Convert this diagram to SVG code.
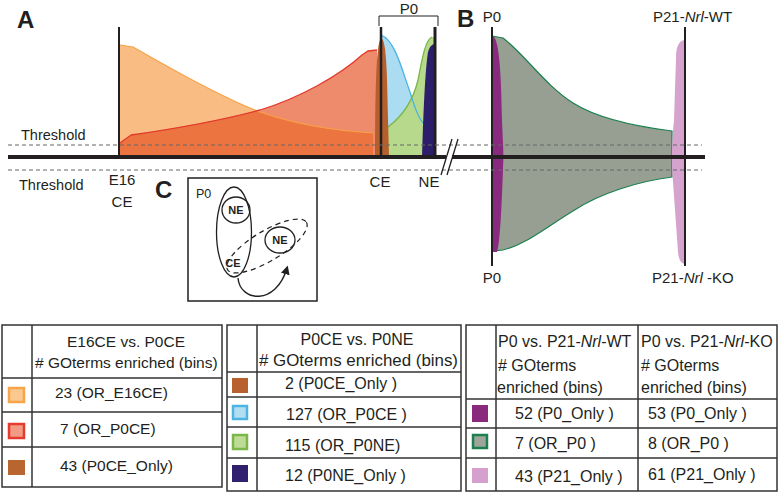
<svg xmlns="http://www.w3.org/2000/svg" width="778" height="493" viewBox="0 0 778 493">
<defs>
<style>
text{font-family:"Liberation Sans",Arial,sans-serif;fill:#231f20}
.lbl{font-size:15px}
.big{font-size:24px;font-weight:bold}
.thr{font-size:14.5px}
.tb{fill:none;stroke:#333;stroke-width:1.5}
.t1{font-size:15.5px}
.t2{font-size:16px}
.c{text-anchor:middle}
.dash{stroke:#666;stroke-width:1;stroke-dasharray:4 3;fill:none}
.vl{stroke:#231f20;fill:none}
.cb{font-size:11px;font-weight:bold}
</style>
<marker id="ah" viewBox="0 0 10 10" refX="7" refY="5" markerWidth="9" markerHeight="9" markerUnits="userSpaceOnUse" orient="auto">
<path d="M0,0 L10,5 L0,10 z" fill="#231f20"/>
</marker>
</defs>
<rect width="778" height="493" fill="#fff"/>

<!-- Panel A -->
<g id="panelA">
<text class="big" x="17" y="28">A</text>
<path id="orange" d="M120,157 V45 L133,47 C160,62 215,95 260,112 C300,126 340,131 373,133 V157 Z" fill="#f9bd83"/>
<path id="red" d="M120,157 V143 L131,135 C180,128 230,118 260,110 C300,98 340,75 362,55 L368,51 L377,50 V157 Z" fill="#e54d1d" fill-opacity="0.65"/>
<path d="M120,45 L133,47 C160,62 215,95 260,112 C300,126 340,131 373,133" fill="none" stroke="#f5a247" stroke-width="1.2"/>
<path d="M120,143 L131,135 C180,128 230,118 260,110 C300,98 340,75 362,55 L368,51 L377,50" fill="none" stroke="#e3392b" stroke-width="1.3"/>
<path id="blue" d="M381,157 V35 C395,40 402,70 410,92 C414,105 418,118 424,124 V157 Z" fill="#acdcf2"/>
<path id="green" d="M388,157 V127 C400,118 412,105 418,80 C422,60 425,40 432,37 L435,37 V157 Z" fill="#b6d98c"/>
<path d="M381,35 C395,40 402,70 410,92 C414,105 418,118 424,124" fill="none" stroke="#4ab3e3" stroke-width="1.3"/>
<path d="M388,127 C400,118 412,105 418,80 C422,60 425,40 432,37" fill="none" stroke="#7ab648" stroke-width="1.3"/>
<path id="brown" d="M375,157 C375,100 376,48 380,40 C383,35 386,44 387,80 L389,157 Z" fill="#b5602c"/>
<path id="navy" d="M422,157 C423,120 425,70 428,52 C430,45 433,44 435,44 V157 Z" fill="#2d1e6b"/>
<line class="vl" x1="119" y1="27" x2="119" y2="157" stroke-width="2"/>
<line class="vl" x1="381" y1="27" x2="381" y2="157" stroke-width="2.5"/>
<line class="vl" x1="435" y1="27" x2="435" y2="157" stroke-width="3"/>
<path class="vl" d="M379,26 V16 H438 V26" stroke-width="1"/>
<text class="lbl c" x="409" y="14">P0</text>
<text class="thr" x="21" y="140">Threshold</text>
<text class="thr" x="19" y="190">Threshold</text>
<text class="lbl c" x="122" y="185">E16</text>
<text class="lbl c" x="122" y="207">CE</text>
<text class="lbl c" x="380" y="187">CE</text>
<text class="lbl c" x="429" y="187">NE</text>
</g>

<!-- Panel B -->
<g id="panelB">
<text class="big" x="457" y="27">B</text>
<path id="gray" d="M492,36 L503,38 C525,55 545,85 573,103 C600,120 640,127 672,131 L672,177 C640,181 600,193 573,211 C545,228 525,245 503,250 L492,251 Z" fill="#969f92" stroke="#1b7f4f" stroke-width="1.2"/>
<path id="purple" d="M492,36 C498,36 501,60 502,120 C503,145 504,157 503,168 C502,200 500,245 497,252 L492,252 Z" fill="#8a2a7e"/>
<path id="pink" d="M685,40 C680,40 676,45 676,58 L674,120 C672,140 671,162 673,182 L678,252 C679,262 682,264 686,264 Z" fill="#d6a3cf"/>
<line class="vl" x1="492" y1="27" x2="492" y2="266" stroke-width="2"/>
<line class="vl" x1="685" y1="27" x2="685" y2="266" stroke-width="2"/>
<text class="lbl c" x="492" y="22">P0</text>
<text class="lbl c" x="492" y="283">P0</text>
<text class="lbl" x="653" y="22">P21-<tspan font-style="italic">Nrl</tspan>-WT</text>
<text class="lbl" x="652" y="283">P21-<tspan font-style="italic">Nrl</tspan> -KO</text>
</g>

<!-- Axis and thresholds -->
<g id="axis">
<line class="dash" x1="8" y1="145" x2="702" y2="145"/>
<line class="dash" x1="8" y1="170" x2="702" y2="170"/>
<line x1="8" y1="157" x2="446" y2="157" stroke="#231f20" stroke-width="4"/>
<line x1="452" y1="157" x2="705" y2="157" stroke="#231f20" stroke-width="4"/>
<line x1="452" y1="139" x2="441" y2="175" stroke="#231f20" stroke-width="1.3"/>
<line x1="458" y1="139" x2="447" y2="175" stroke="#231f20" stroke-width="1.3"/>
</g>

<!-- Panel C -->
<g id="panelC">
<text class="big" x="155" y="198">C</text>
<rect x="188" y="178" width="129" height="123" fill="none" stroke="#231f20" stroke-width="1.5"/>
<text x="196" y="198" font-size="12.5">P0</text>
<ellipse cx="234" cy="232" rx="17.5" ry="45" fill="none" stroke="#231f20" stroke-width="1.3"/>
<ellipse cx="236" cy="210" rx="14" ry="13" fill="none" stroke="#231f20" stroke-width="1.3"/>
<text class="cb c" x="236" y="214">NE</text>
<ellipse cx="280" cy="240" rx="15" ry="13" fill="none" stroke="#231f20" stroke-width="1.3"/>
<text class="cb c" x="280" y="244">NE</text>
<text class="cb c" x="233" y="267" font-size="10.5">CE</text>
<ellipse cx="267" cy="246" rx="46" ry="15" transform="rotate(-31 267 246)" fill="none" stroke="#231f20" stroke-width="1.2" stroke-dasharray="5 4"/>
</g>

<g id="connectors">
<path d="M238,278 C240,302 276,306 287,268" fill="none" stroke="#231f20" stroke-width="1.4" marker-end="url(#ah)"/>
</g>

<!-- Table 1 -->
<g id="table1">
<rect class="tb" x="2" y="325" width="220" height="162"/>
<line class="tb" x1="32" y1="325" x2="32" y2="487"/>
<line class="tb" x1="2" y1="378" x2="222" y2="378"/>
<line class="tb" x1="2" y1="412" x2="222" y2="412"/>
<line class="tb" x1="2" y1="447" x2="222" y2="447"/>
<text class="t1 c" x="126" y="347">E16CE vs. P0CE</text>
<text class="t1" x="35" y="368">#&#160;GOterms enriched (bins)</text>
<rect x="9" y="388" width="15" height="14" fill="#fbc88f" stroke="#f7a54a" stroke-width="2.5"/>
<rect x="9" y="424" width="15" height="14" fill="#f29b85" stroke="#e53a2f" stroke-width="2.5"/>
<rect x="8" y="460" width="17" height="15" fill="#b9652f"/>
<text class="t1" x="55" y="398">23 (OR_E16CE)</text>
<text class="t1" x="60" y="434">7 (OR_P0CE)</text>
<text class="t1" x="60" y="471">43 (P0CE_Only)</text>
</g>

<!-- Table 2 -->
<g id="table2">
<rect class="tb" x="227" y="325" width="234" height="166"/>
<line class="tb" x1="257" y1="325" x2="257" y2="491"/>
<line class="tb" x1="227" y1="372" x2="461" y2="372"/>
<line class="tb" x1="227" y1="397" x2="461" y2="397"/>
<line class="tb" x1="227" y1="427" x2="461" y2="427"/>
<line class="tb" x1="227" y1="458" x2="461" y2="458"/>
<text class="t2 c" x="357" y="345">P0CE vs. P0NE</text>
<text class="t2" x="259" y="366" textLength="199" lengthAdjust="spacingAndGlyphs">#&#160;GOterms enriched (bins)</text>
<rect x="232" y="378" width="16" height="15" fill="#b8602f"/>
<rect x="233" y="406" width="14" height="13" fill="#b3def2" stroke="#4db3e3" stroke-width="2.5"/>
<rect x="233" y="435" width="14" height="14" fill="#bedb98" stroke="#7ab648" stroke-width="2.5"/>
<rect x="232" y="465" width="16" height="17" fill="#30206e"/>
<text class="t2" x="285" y="389">2 (P0CE_Only )</text>
<text class="t2" x="286" y="420">127 (OR_P0CE )</text>
<text class="t2" x="285" y="451">115 (OR_P0NE)</text>
<text class="t2" x="285" y="481">12 (P0NE_Only )</text>
</g>

<!-- Table 3 -->
<g id="table3">
<rect class="tb" x="466" y="325" width="311" height="166"/>
<line class="tb" x1="496" y1="325" x2="496" y2="491"/>
<line class="tb" x1="638" y1="325" x2="638" y2="491"/>
<line class="tb" x1="466" y1="399" x2="777" y2="399"/>
<line class="tb" x1="466" y1="428" x2="777" y2="428"/>
<line class="tb" x1="466" y1="458" x2="777" y2="458"/>
<text class="t2" x="498" y="347">P0 vs. P21-<tspan font-style="italic">Nrl</tspan>-WT</text>
<text class="t2" x="498" y="371">#&#160;GOterms</text>
<text class="t2" x="497" y="393">enriched (bins)</text>
<text class="t2" x="641" y="347">P0 vs. P21-<tspan font-style="italic">Nrl</tspan>-KO</text>
<text class="t2" x="641" y="371">#&#160;GOterms</text>
<text class="t2" x="641" y="393">enriched (bins)</text>
<rect x="472" y="405" width="16" height="17" fill="#8a2a7d"/>
<rect x="473" y="435" width="14" height="13" fill="#9ea59a" stroke="#1b7f4f" stroke-width="2.5"/>
<rect x="472" y="468" width="16" height="15" fill="#d5a0cd"/>
<text class="t2" x="515" y="419">52 (P0_Only )</text>
<text class="t2" x="648" y="419">53 (P0_Only )</text>
<text class="t2" x="515" y="449">7 (OR_P0 )</text>
<text class="t2" x="648" y="449">8 (OR_P0 )</text>
<text class="t2" x="515" y="482">43 (P21_Only )</text>
<text class="t2" x="648" y="480">61 (P21_Only )</text>
</g>
</svg>
